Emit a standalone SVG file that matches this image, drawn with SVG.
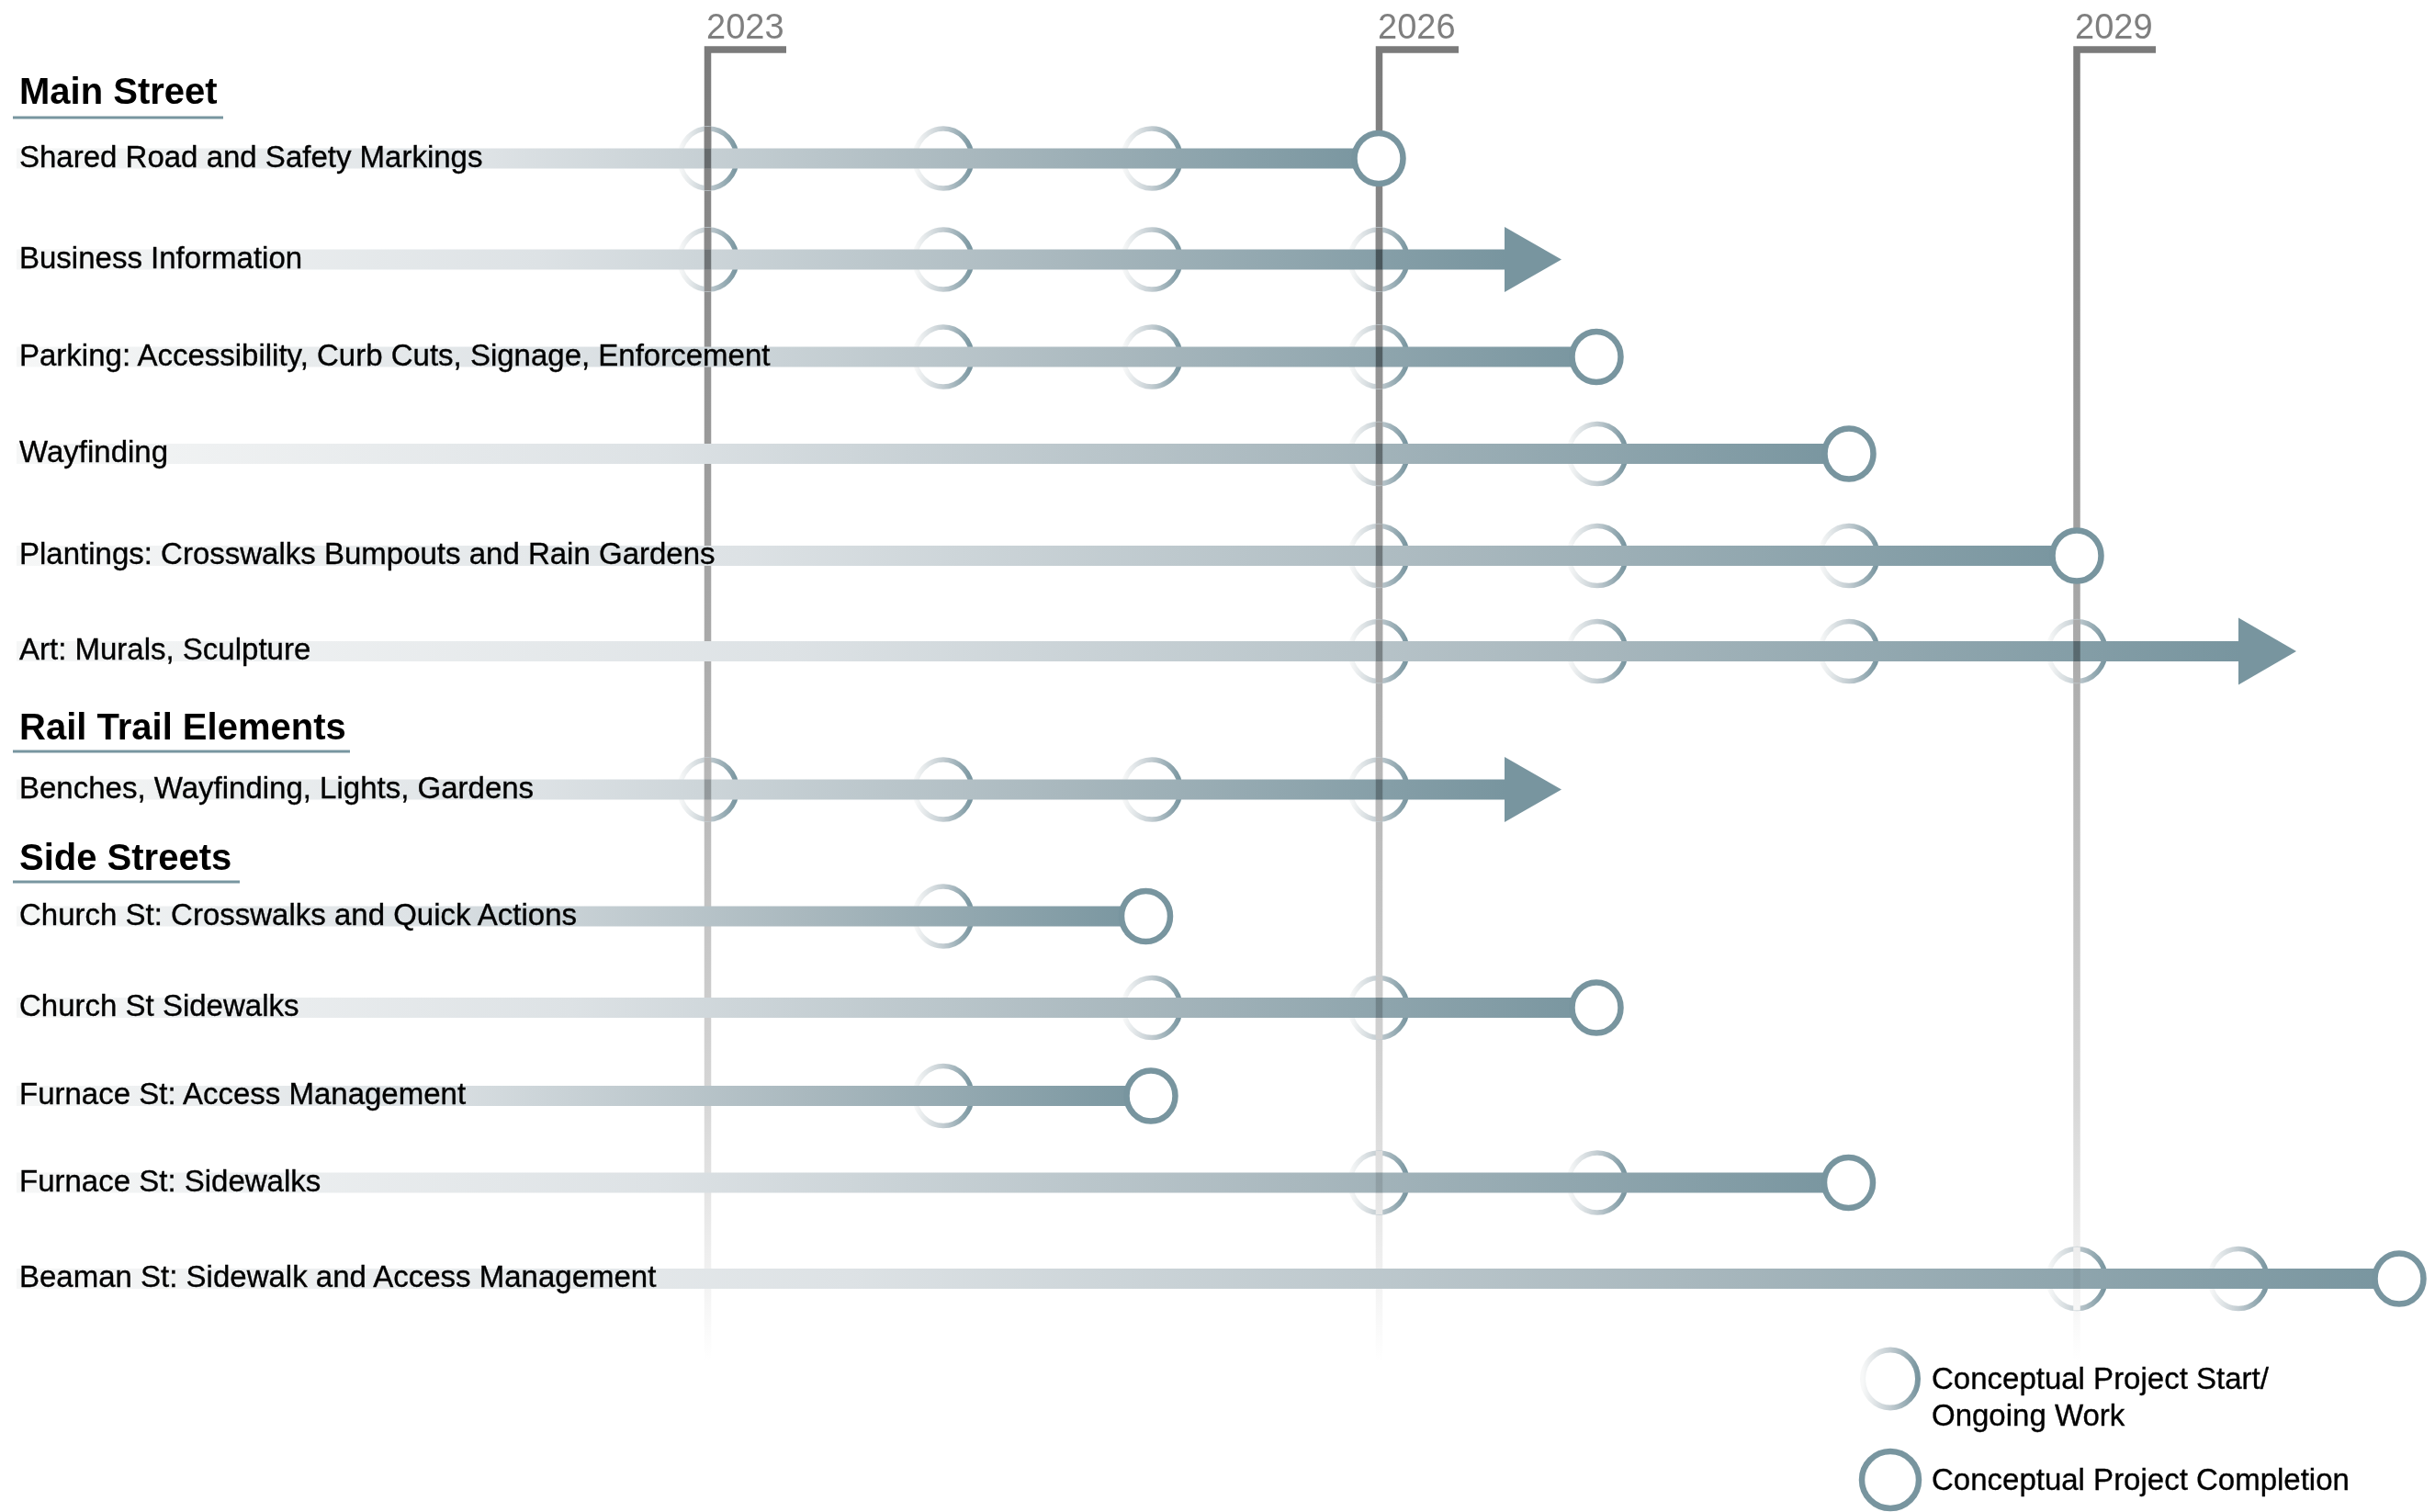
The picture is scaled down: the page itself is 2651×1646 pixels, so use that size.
<svg xmlns="http://www.w3.org/2000/svg" width="2651" height="1646" viewBox="0 0 2651 1646">
<defs>
<linearGradient id="lineGrad" gradientUnits="userSpaceOnUse" x1="0" y1="50" x2="0" y2="1482">
<stop offset="0" stop-color="#7a7a7a"/>
<stop offset="0.45" stop-color="#a9a9a9"/>
<stop offset="0.8" stop-color="#d6d6d6"/>
<stop offset="1" stop-color="#ffffff"/>
</linearGradient>
<linearGradient id="barGrad" x1="0" y1="0" x2="1" y2="0">
<stop offset="0" stop-color="#f6f7f7"/>
<stop offset="0.35" stop-color="#dde2e5"/>
<stop offset="0.7" stop-color="#a9b8be"/>
<stop offset="1" stop-color="#78959f"/>
</linearGradient>
<linearGradient id="ringGrad" x1="0" y1="0" x2="1" y2="0">
<stop offset="0" stop-color="#f7f8f8"/>
<stop offset="0.5" stop-color="#c2ccd1"/>
<stop offset="1" stop-color="#78959f"/>
</linearGradient>
<style>
.year{font-family:"Liberation Sans",Arial,sans-serif;font-size:38px;fill:#7f7f7f}
.axis{fill:none;stroke:url(#lineGrad);stroke-width:7.5}
.seg{stroke:url(#lineGrad);stroke-width:7.5}
.mul{stroke:url(#lineGrad);stroke-width:7.5;mix-blend-mode:multiply}
.bar{fill:url(#barGrad)}
.ring{fill:none;stroke:url(#ringGrad);stroke-width:5.5}
.done{fill:#ffffff;stroke:#78959f;stroke-width:6.5}
.head{fill:#78959f}
.lbl{font-family:"Liberation Sans",Arial,sans-serif;font-size:33px;fill:#000000;stroke:#000000;stroke-width:0.35}
.h{font-family:"Liberation Sans",Arial,sans-serif;font-size:40px;font-weight:bold;fill:#000000}
.ul{fill:#7896a0}
</style>
</defs>
<rect width="2651" height="1646" fill="#ffffff"/>

<g id="connectors">
<path class="axis" d="M770.5 1485 V54 H856"/>
<path class="axis" d="M1501.5 1485 V54 H1588"/>
<path class="axis" d="M2261 1485 V54 H2347"/>
</g>

<g id="years">
<text class="year" x="769" y="42">2023</text>
<text class="year" x="1500" y="42">2026</text>
<text class="year" x="2259" y="42">2029</text>
</g>

<g id="heading-main">
<text class="h" x="21" y="113">Main Street</text>
<rect class="ul" x="14" y="126.5" width="229" height="3"/>
</g>
<g id="heading-rail">
<text class="h" x="21" y="805">Rail Trail Elements</text>
<rect class="ul" x="14" y="816.5" width="367" height="3"/>
</g>
<g id="heading-side">
<text class="h" x="21" y="946.5">Side Streets</text>
<rect class="ul" x="14" y="958.5" width="247" height="3"/>
</g>

<g id="row-shared-road">
<ellipse class="ring" cx="771" cy="172.5" rx="31" ry="32.5"/>
<ellipse class="ring" cx="1027" cy="172.5" rx="31" ry="32.5"/>
<ellipse class="ring" cx="1254" cy="172.5" rx="31" ry="32.5"/>
<line class="seg" x1="770.5" y1="138" x2="770.5" y2="207"/>
<rect class="bar" x="18" y="161.5" width="1483" height="22"/>
<line class="mul" x1="770.5" y1="161.5" x2="770.5" y2="183.5"/>
<ellipse class="done" cx="1501" cy="172.5" rx="26.5" ry="27.5"/>
<text class="lbl" x="21" y="181.5">Shared Road and Safety Markings</text>
</g>

<g id="row-business">
<ellipse class="ring" cx="771" cy="282.5" rx="31" ry="32.5"/>
<ellipse class="ring" cx="1027" cy="282.5" rx="31" ry="32.5"/>
<ellipse class="ring" cx="1254" cy="282.5" rx="31" ry="32.5"/>
<ellipse class="ring" cx="1501" cy="282.5" rx="31" ry="32.5"/>
<line class="seg" x1="770.5" y1="248" x2="770.5" y2="317"/>
<line class="seg" x1="1501.5" y1="248" x2="1501.5" y2="317"/>
<rect class="bar" x="18" y="271.5" width="1622" height="22"/>
<line class="mul" x1="770.5" y1="271.5" x2="770.5" y2="293.5"/>
<line class="mul" x1="1501.5" y1="271.5" x2="1501.5" y2="293.5"/>
<polygon class="head" points="1638,247 1700,282.5 1638,318"/>
<text class="lbl" x="21" y="291.5">Business Information</text>
</g>

<g id="row-parking">
<ellipse class="ring" cx="1027" cy="388.5" rx="31" ry="32.5"/>
<ellipse class="ring" cx="1254" cy="388.5" rx="31" ry="32.5"/>
<ellipse class="ring" cx="1501" cy="388.5" rx="31" ry="32.5"/>
<line class="seg" x1="1501.5" y1="354" x2="1501.5" y2="423"/>
<rect class="bar" x="18" y="377.5" width="1720" height="22"/>
<line class="mul" x1="1501.5" y1="377.5" x2="1501.5" y2="399.5"/>
<ellipse class="done" cx="1738" cy="388.5" rx="26.5" ry="27.5"/>
<text class="lbl" x="21" y="397.5">Parking: Accessibility, Curb Cuts, Signage, Enforcement</text>
</g>

<g id="row-wayfinding">
<ellipse class="ring" cx="1501" cy="494" rx="31" ry="32.5"/>
<ellipse class="ring" cx="1739" cy="494" rx="31" ry="32.5"/>
<line class="seg" x1="1501.5" y1="459.5" x2="1501.5" y2="528.5"/>
<rect class="bar" x="18" y="483" width="1995" height="22"/>
<line class="mul" x1="1501.5" y1="483" x2="1501.5" y2="505"/>
<ellipse class="done" cx="2013" cy="494" rx="26.5" ry="27.5"/>
<text class="lbl" x="21" y="503">Wayfinding</text>
</g>

<g id="row-plantings">
<ellipse class="ring" cx="1501" cy="605" rx="31" ry="32.5"/>
<ellipse class="ring" cx="1739" cy="605" rx="31" ry="32.5"/>
<ellipse class="ring" cx="2013" cy="605" rx="31" ry="32.5"/>
<line class="seg" x1="1501.5" y1="570.5" x2="1501.5" y2="639.5"/>
<rect class="bar" x="18" y="594" width="2243" height="22"/>
<line class="mul" x1="1501.5" y1="594" x2="1501.5" y2="616"/>
<ellipse class="done" cx="2261" cy="605" rx="26.5" ry="27.5"/>
<text class="lbl" x="21" y="614">Plantings: Crosswalks Bumpouts and Rain Gardens</text>
</g>

<g id="row-art">
<ellipse class="ring" cx="1501" cy="709" rx="31" ry="32.5"/>
<ellipse class="ring" cx="1739" cy="709" rx="31" ry="32.5"/>
<ellipse class="ring" cx="2013" cy="709" rx="31" ry="32.5"/>
<ellipse class="ring" cx="2261" cy="709" rx="31" ry="32.5"/>
<line class="seg" x1="1501.5" y1="674.5" x2="1501.5" y2="743.5"/>
<line class="seg" x1="2261" y1="674.5" x2="2261" y2="743.5"/>
<rect class="bar" x="18" y="698" width="2421" height="22"/>
<line class="mul" x1="1501.5" y1="698" x2="1501.5" y2="720"/>
<line class="mul" x1="2261" y1="698" x2="2261" y2="720"/>
<polygon class="head" points="2437,672.5 2500,709 2437,745.5"/>
<text class="lbl" x="21" y="718">Art: Murals, Sculpture</text>
</g>

<g id="row-benches">
<ellipse class="ring" cx="771" cy="859.5" rx="31" ry="32.5"/>
<ellipse class="ring" cx="1027" cy="859.5" rx="31" ry="32.5"/>
<ellipse class="ring" cx="1254" cy="859.5" rx="31" ry="32.5"/>
<ellipse class="ring" cx="1501" cy="859.5" rx="31" ry="32.5"/>
<line class="seg" x1="770.5" y1="825" x2="770.5" y2="894"/>
<line class="seg" x1="1501.5" y1="825" x2="1501.5" y2="894"/>
<rect class="bar" x="18" y="848.5" width="1622" height="22"/>
<line class="mul" x1="770.5" y1="848.5" x2="770.5" y2="870.5"/>
<line class="mul" x1="1501.5" y1="848.5" x2="1501.5" y2="870.5"/>
<polygon class="head" points="1638,824 1700,859.5 1638,895"/>
<text class="lbl" x="21" y="868.5">Benches, Wayfinding, Lights, Gardens</text>
</g>

<g id="row-church-crosswalks">
<ellipse class="ring" cx="1027" cy="997.5" rx="31" ry="32.5"/>
<rect class="bar" x="18" y="986.5" width="1229.5" height="22"/>
<ellipse class="done" cx="1247.5" cy="997.5" rx="26.5" ry="27.5"/>
<text class="lbl" x="21" y="1006.5">Church St: Crosswalks and Quick Actions</text>
</g>

<g id="row-church-sidewalks">
<ellipse class="ring" cx="1254" cy="1097" rx="31" ry="32.5"/>
<ellipse class="ring" cx="1501" cy="1097" rx="31" ry="32.5"/>
<line class="seg" x1="1501.5" y1="1062.5" x2="1501.5" y2="1131.5"/>
<rect class="bar" x="18" y="1086" width="1720" height="22"/>
<line class="mul" x1="1501.5" y1="1086" x2="1501.5" y2="1108"/>
<ellipse class="done" cx="1738" cy="1097" rx="26.5" ry="27.5"/>
<text class="lbl" x="21" y="1106">Church St Sidewalks</text>
</g>

<g id="row-furnace-access">
<ellipse class="ring" cx="1027" cy="1193" rx="31" ry="32.5"/>
<rect class="bar" x="18" y="1182" width="1235" height="22"/>
<ellipse class="done" cx="1253" cy="1193" rx="26.5" ry="27.5"/>
<text class="lbl" x="21" y="1202">Furnace St: Access Management</text>
</g>

<g id="row-furnace-sidewalks">
<ellipse class="ring" cx="1501" cy="1287.5" rx="31" ry="32.5"/>
<ellipse class="ring" cx="1739" cy="1287.5" rx="31" ry="32.5"/>
<line class="seg" x1="1501.5" y1="1253" x2="1501.5" y2="1322"/>
<rect class="bar" x="18" y="1276.5" width="1994.5" height="22"/>
<line class="mul" x1="1501.5" y1="1276.5" x2="1501.5" y2="1298.5"/>
<ellipse class="done" cx="2012.5" cy="1287.5" rx="26.5" ry="27.5"/>
<text class="lbl" x="21" y="1296.5">Furnace St: Sidewalks</text>
</g>

<g id="row-beaman">
<ellipse class="ring" cx="2261" cy="1392" rx="31" ry="32.5"/>
<ellipse class="ring" cx="2437" cy="1392" rx="31" ry="32.5"/>
<line class="seg" x1="2261" y1="1357.5" x2="2261" y2="1426.5"/>
<rect class="bar" x="18" y="1381" width="2594" height="22"/>
<line class="mul" x1="2261" y1="1381" x2="2261" y2="1403"/>
<ellipse class="done" cx="2612" cy="1392" rx="26.5" ry="27.5"/>
<text class="lbl" x="21" y="1401">Beaman St: Sidewalk and Access Management</text>
</g>

<g id="legend-ongoing">
<ellipse cx="2058" cy="1501" rx="30" ry="31.5" fill="none" stroke="url(#ringGrad)" stroke-width="6"/>
<text class="lbl" x="2103" y="1512">Conceptual Project Start/</text>
<text class="lbl" x="2103" y="1552">Ongoing Work</text>
</g>
<g id="legend-completion">
<ellipse class="done" cx="2058" cy="1611" rx="31" ry="31"/>
<text class="lbl" x="2103" y="1622">Conceptual Project Completion</text>
</g>
</svg>
